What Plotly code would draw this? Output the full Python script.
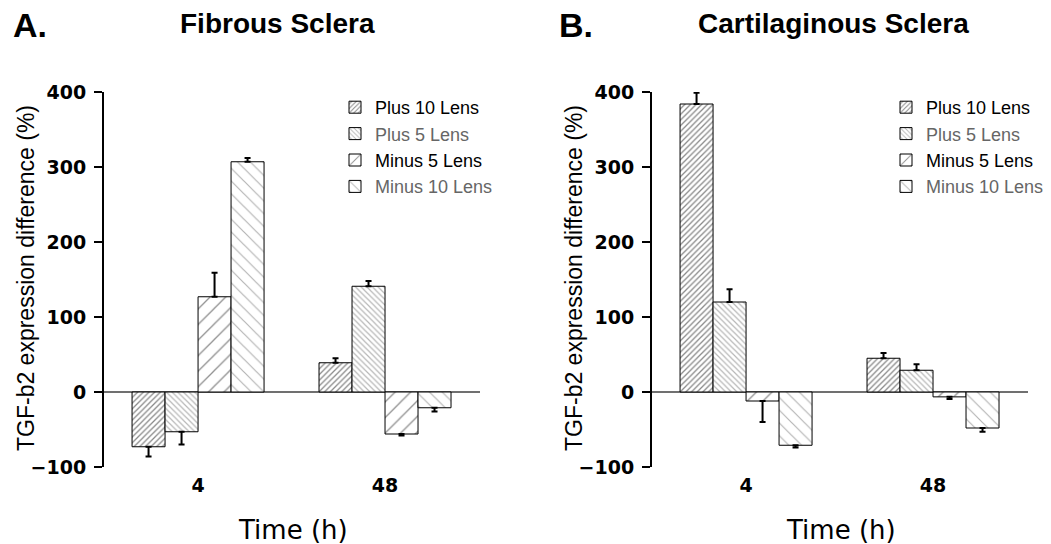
import plotly.graph_objects as go

times = ["4", "48"]
series = ["Plus 10 Lens", "Plus 5 Lens", "Minus 5 Lens", "Minus 10 Lens"]

# Panel A: Fibrous Sclera
fib_plus10 = [-73, 39]
fib_plus5 = [-53, 141]
fib_minus5 = [127, -56]
fib_minus10 = [307, -21]
fib_plus10_err = [13, 6]
fib_plus5_err = [17, 7]
fib_minus5_err = [32, 2]
fib_minus10_err = [5, 5]

# Panel B: Cartilaginous Sclera
car_plus10 = [384, 45]
car_plus5 = [120, 29]
car_minus5 = [-12, -6.5]
car_minus10 = [-71, -48]
car_plus10_err = [15, 7]
car_plus5_err = [17, 8]
car_minus5_err = [28, 3]
car_minus10_err = [3, 5]

y_ticks = [-100, 0, 100, 200, 300, 400]

patterns = [
    dict(shape="/", size=4, solidity=0.32, fgcolor="#111111", bgcolor="white"),
    dict(shape="\\", size=4, solidity=0.3, fgcolor="#707070", bgcolor="white"),
    dict(shape="/", size=11, solidity=0.12, fgcolor="#222222", bgcolor="white"),
    dict(shape="\\", size=9, solidity=0.13, fgcolor="#6a6a6a", bgcolor="white"),
]
legend_colors = ["#000000", "#666666", "#000000", "#666666"]

fig = go.Figure()

panels = [
    ("x", "y", "legend", [fib_plus10, fib_plus5, fib_minus5, fib_minus10],
     [fib_plus10_err, fib_plus5_err, fib_minus5_err, fib_minus10_err]),
    ("x2", "y2", "legend2", [car_plus10, car_plus5, car_minus5, car_minus10],
     [car_plus10_err, car_plus5_err, car_minus5_err, car_minus10_err]),
]

for xa, ya, lg, vals, errs in panels:
    for i, name in enumerate(series):
        v = vals[i]
        e = errs[i]
        up = [ee if vv >= 0 else 0 for vv, ee in zip(v, e)]
        down = [ee if vv < 0 else 0 for vv, ee in zip(v, e)]
        fig.add_trace(go.Bar(
            x=times, y=v, xaxis=xa, yaxis=ya, legend=lg,
            name=f'<span style="color:{legend_colors[i]}">{name}</span>',
            marker=dict(color="white", pattern=patterns[i],
                        line=dict(color="black", width=1)),
            error_y=dict(type="data", symmetric=False, array=up, arrayminus=down,
                         color="black", thickness=2, width=3),
        ))

ydom = [1 - 467 / 544, 1 - 92 / 544]
yaxis_common = dict(
    range=[-100, 400], tickvals=y_ticks, showgrid=False,
    showline=True, linecolor="black", linewidth=2,
    ticks="outside", ticklen=8, tickwidth=2, tickcolor="black",
    zeroline=True, zerolinecolor="#707070", zerolinewidth=1.5,
    tickfont=dict(family="DejaVu Sans", size=19, color="black", weight="bold"),
    ticklabelstandoff=4, domain=ydom, fixedrange=True, automargin=False,
)
xaxis_common = dict(
    type="category", range=[-0.503, 1.508], showgrid=False, showline=False,
    ticks="", zeroline=False,
    tickfont=dict(family="DejaVu Sans", size=19, color="black", weight="bold"),
    ticklabelstandoff=5, fixedrange=True, automargin=False,
)

fig.update_layout(
    width=1051, height=544,
    margin=dict(l=0, r=0, t=0, b=0, pad=0, autoexpand=False),
    paper_bgcolor="white", plot_bgcolor="white",
    barmode="group", bargap=0.294, bargroupgap=0,
    xaxis=dict(xaxis_common, domain=[104 / 1051, 480 / 1051], anchor="y"),
    yaxis=dict(yaxis_common, anchor="x"),
    xaxis2=dict(xaxis_common, domain=[652 / 1051, 1028 / 1051], anchor="y2"),
    yaxis2=dict(yaxis_common, anchor="x2"),
    legend=dict(x=335 / 1051, y=1 - 89 / 544, xanchor="left", yanchor="top",
                font=dict(family="Liberation Sans", size=18, color="black"),
                bgcolor="rgba(0,0,0,0)", traceorder="normal"),
    legend2=dict(x=886 / 1051, y=1 - 89 / 544, xanchor="left", yanchor="top",
                 font=dict(family="Liberation Sans", size=18, color="black"),
                 bgcolor="rgba(0,0,0,0)", traceorder="normal"),
    showlegend=True,
)

def ann(text, x, y, size, bold=False, family="Liberation Sans", angle=0, xanchor="center"):
    fig.add_annotation(
        text=text, x=x / 1051, y=1 - y / 544, xref="paper", yref="paper",
        showarrow=False, textangle=angle, xanchor=xanchor, yanchor="middle",
        font=dict(family=family, size=size, color="black",
                  weight="bold" if bold else "normal"),
    )

ann("A.", 11, 25, 34, bold=True, xanchor="left")
ann("Fibrous Sclera", 277, 24, 28, bold=True)
ann("B.", 557, 25, 34, bold=True, xanchor="left")
ann("Cartilaginous Sclera", 833, 24, 28, bold=True)
ann("TGF-b2 expression difference (%)", 26, 278, 23, angle=-90)
ann("TGF-b2 expression difference (%)", 574, 278, 23, angle=-90)
ann("Time (h)", 293, 530, 26, family="DejaVu Sans")
ann("Time (h)", 841, 530, 26, family="DejaVu Sans")

fig.write_html("out.html")
